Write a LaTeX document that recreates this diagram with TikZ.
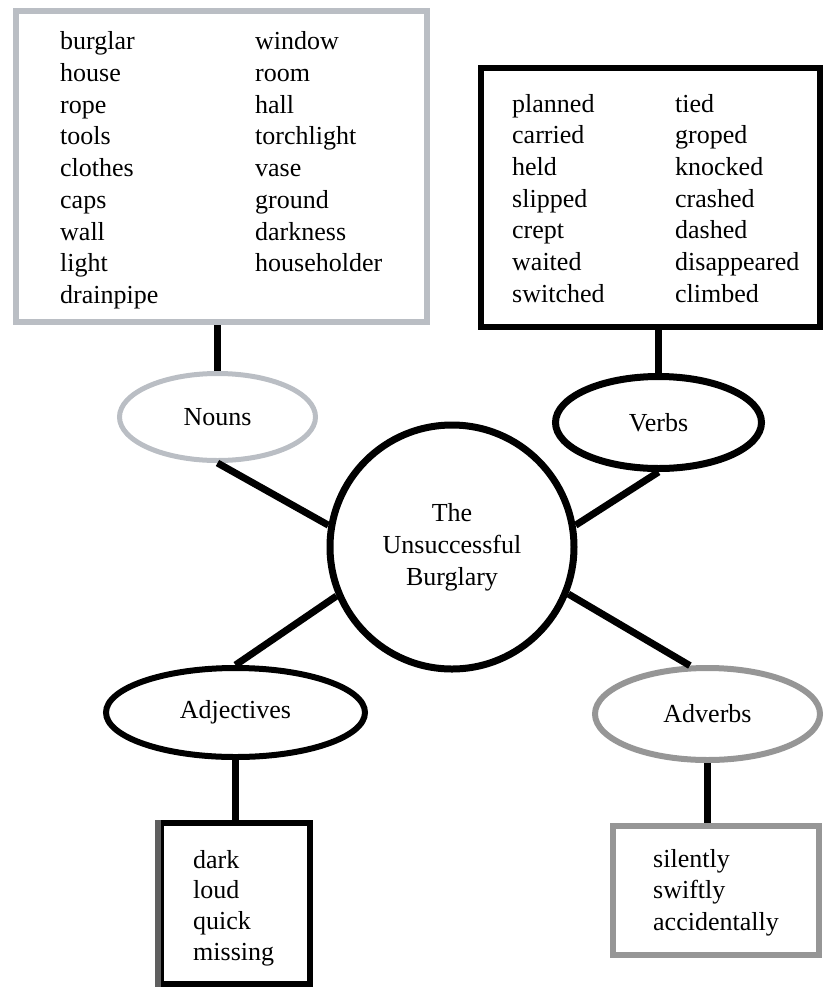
\documentclass[tikz,border=0pt]{standalone}
\usepackage{fontspec}
\setmainfont{Liberation Serif}
\usetikzlibrary{shapes.geometric}

\definecolor{lightframe}{RGB}{186,190,196}
\definecolor{midframe}{RGB}{150,150,150}
\definecolor{darkedge}{RGB}{95,95,95}

\tikzstyle{listbox}=[draw,line width=6pt,rectangle,inner sep=0pt]
\tikzstyle{topic}=[draw,line width=6pt,ellipse,inner sep=0pt]
\tikzstyle{hub}=[draw,line width=7pt,circle,minimum size=244pt,inner sep=0pt,align=center]
\tikzstyle{link}=[draw,line width=7pt,-]
\tikzstyle{word}=[anchor=base west,inner sep=0pt]
\newcommand{\wordfont}{\fontsize{26}{32}\selectfont}

\begin{document}
\begin{tikzpicture}[x=1pt, y=-1pt, every node/.style={font=\wordfont}]
    \useasboundingbox (0,0) rectangle (826,989);
    % First we draw the boxes, the ellipses and the hub
    \node[listbox, draw=lightframe, minimum width=411pt, minimum height=311pt] (nbox) at (221.5,166.5) {};
    \node[listbox, minimum width=339pt, minimum height=259pt] (vbox) at (650.5,197.5) {};
    \node[listbox, minimum width=149pt, minimum height=161pt] (abox) at (235.5,903.5) {};
    \node[listbox, draw=midframe, minimum width=206pt, minimum height=129pt] (dbox) at (716,890.5) {};
    \draw[line width=6pt, darkedge] (abox.north west) -- (abox.south west);

    \node[topic, draw=lightframe, line width=5pt, minimum width=196pt, minimum height=87pt] (nouns) at (217.5,417) {Nouns};
    \node[topic, line width=7pt, minimum width=206pt, minimum height=92pt] (verbs) at (658.5,422.5) {Verbs};
    \node[topic, minimum width=259pt, minimum height=89pt] (adjs) at (235.5,712.5) {Adjectives};
    \node[topic, draw=midframe, minimum width=225pt, minimum height=92pt] (advs) at (707.5,714) {Adverbs};
    \node[hub] (story) at (452,547) {The\\Unsuccessful\\Burglary};

    % Connect the topics to the hub and to their boxes
    \foreach \source/\dest in {nouns.south/story.170, verbs.south/story.10, story.203/adjs.north, story.338/advs.110}
        \path[link] (\source) -- (\dest);
    \foreach \topic/\wbox in {nouns/nbox, verbs/vbox}
        \path[link] (\topic.north) -- (\topic.north |- \wbox.south);
    \foreach \topic/\wbox in {adjs/abox, advs/dbox}
        \path[link] (\topic.south) -- (\topic.south |- \wbox.north);

    % Then the words
    \foreach \word [count=\i] in {burglar,house,rope,tools,clothes,caps,wall,light,drainpipe}
        \node[word] (na\i) at (60,{49.5+31.75*(\i-1)}) {\word};
    \foreach \word [count=\i] in {window,room,hall,torchlight,vase,ground,darkness,householder}
        \node[word] (nb\i) at (255,{49.5+31.75*(\i-1)}) {\word};
    \foreach \word [count=\i] in {planned,carried,held,slipped,crept,waited,switched}
        \node[word] (va\i) at (512,{112+31.7*(\i-1)}) {\word};
    \foreach \word [count=\i] in {tied,groped,knocked,crashed,dashed,disappeared,climbed}
        \node[word] (vb\i) at (675,{112+31.7*(\i-1)}) {\word};
    \foreach \word [count=\i] in {dark,loud,quick,missing}
        \node[word] (aj\i) at (193,{868+30.7*(\i-1)}) {\word};
    \foreach \word [count=\i] in {silently,swiftly,accidentally}
        \node[word] (av\i) at (653,{867+31.5*(\i-1)}) {\word};
\end{tikzpicture}
\end{document}
